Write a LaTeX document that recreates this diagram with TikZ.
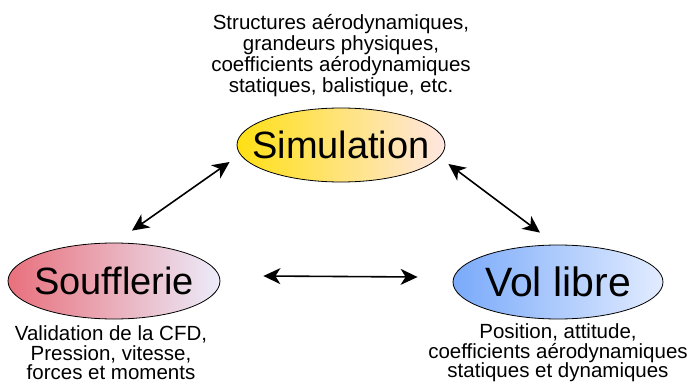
\documentclass[tikz,border=0pt]{standalone}
\usepackage{fontspec}
\setmainfont{Liberation Sans}
\usepackage{tikz}
\usetikzlibrary{arrows.meta,shapes.geometric}
\usepackage{xcolor}
\definecolor{simL}{RGB}{255,224,20}
\definecolor{simM}{RGB}{252,204,140}
\definecolor{simR}{RGB}{255,230,226}
\definecolor{soufL}{RGB}{232,112,124}
\definecolor{soufM}{RGB}{218,184,204}
\definecolor{soufR}{RGB}{236,236,250}
\definecolor{volL}{RGB}{122,170,250}
\definecolor{volM}{RGB}{172,204,250}
\definecolor{volR}{RGB}{226,236,255}

\begin{document}
\begin{tikzpicture}[
    x=1pt,y=1pt,
    blob/.style={ellipse,draw=black,line width=.8pt,inner sep=0pt,font=\fontsize{38}{40}\selectfont},
    note/.style={align=center,inner sep=0pt,font=\fontsize{20.5}{19.5}\selectfont},
    link/.style={{Stealth[length=17pt,width=16pt,inset=5pt]}-{Stealth[length=17pt,width=16pt,inset=5pt]},line width=1.6pt}
  ]
    \useasboundingbox (0,0) rectangle (696,-385);
    \node[blob,minimum width=208pt,minimum height=74pt,left color=simL,middle color=simM,right color=simR] (sim) at (341,-145) {\makebox[0pt]{Simulation}};
    \node[blob,minimum width=212pt,minimum height=76pt,left color=soufL,middle color=soufM,right color=soufR] (souf) at (114,-281) {\makebox[0pt]{Soufflerie}};
    \node[blob,minimum width=210pt,minimum height=74pt,left color=volL,middle color=volM,right color=volR,font=\fontsize{41}{44}\selectfont] (vol) at (558,-282) {\makebox[0pt]{Vol libre}};
    \node[note,font=\fontsize{20.5}{21}\selectfont] (simtxt) at (341,-56) {Structures aérodynamiques,\\grandeurs physiques,\\coefficients aérodynamiques\\statiques, balistique, etc.};
    \node[note] (souftxt) at (111,-353) {Validation de la CFD,\\Pression, vitesse,\\forces et moments};
    \node[note] (voltxt) at (558,-353) {Position, attitude,\\coefficients aérodynamiques\\statiques et dynamiques};
    \draw[link] ([shift={(18,12)}]souf.north) -- ([shift={(-7,-17)}]sim.west);
    \draw[link] ([shift={(3,-19)}]sim.east) -- ([shift={(-18,12)}]vol.north);
    \draw[link] ([shift={(43,5)}]souf.east) -- ([shift={(-35,5)}]vol.west);
  \end{tikzpicture}
\end{document}
